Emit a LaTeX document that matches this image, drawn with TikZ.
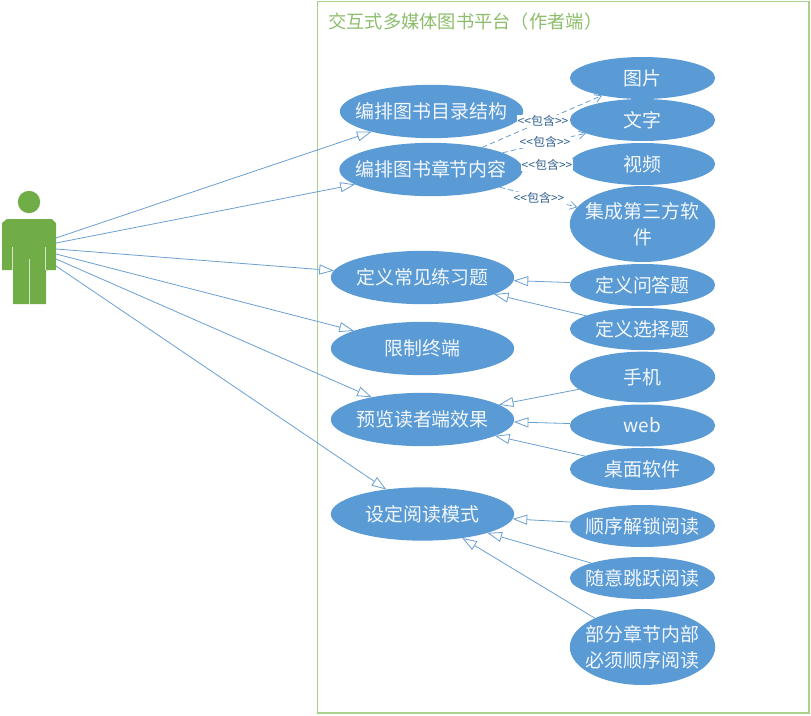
\documentclass[tikz,border=0pt]{standalone}
\usepackage{fontspec}
\setmainfont{Liberation Sans}
\newfontfamily\cjk{Noto Sans CJK SC}
\usetikzlibrary{shapes.geometric,arrows.meta}
\definecolor{ucblue}{HTML}{5B9BD5}
\definecolor{ucline}{HTML}{6A9FD3}
\definecolor{ucgreen}{HTML}{70AD47}
\definecolor{ucframe}{HTML}{A9D18E}
\definecolor{uclabel}{HTML}{2F5F8F}
\tikzset{
  x=0.75pt,y=-0.75pt,
  usecase/.style={ellipse,fill=ucblue,inner xsep=-70pt,inner ysep=-30pt,outer sep=0pt,text=white!92!ucblue,align=center,
    font=\cjk\fontsize{14.2}{19.5}\selectfont},
  leftcase/.style={usecase,minimum width=137.5pt,minimum height=40pt},
  rightcase/.style={usecase,minimum width=109pt,minimum height=31.5pt},
  tallcase/.style={usecase,minimum width=109pt,minimum height=57pt},
  assoc/.style={draw=ucline,line width=0.6pt,-{Triangle[open,length=11pt,width=7.5pt,fill=white]}},
  incl/.style={draw=ucline,line width=0.6pt,dash pattern=on 4pt off 2.5pt,-{Straight Barb[length=5pt,width=6pt]}},
  incltext/.style={fill=white,inner sep=0.6pt,text=uclabel,font=\cjk\fontsize{9}{10}\selectfont},
  actorpart/.style={fill=ucgreen,draw=none},
  actorseam/.style={draw=white!70!ucgreen,line width=0.6pt},
}
\begin{document}
\begin{tikzpicture}
\useasboundingbox (0,0) rectangle (811,715);
\draw[ucframe,line width=0.8pt] (317.5,1.5) rectangle (809,713);
\node[anchor=west,inner sep=0pt,text=ucgreen!80!white,font=\cjk\fontsize{13.7}{16}\selectfont] (title) at (328,22) {交互式多媒体图书平台（作者端）};
% actor
\fill[actorpart] (29,202) circle[radius=8.4pt];
\fill[actorpart] (7,219) -- (52,219) -- (56,223) -- (56,270) -- (46,270) -- (46,304) -- (13,304) -- (13,270) -- (2,270) -- (2,223) -- cycle;
\draw[actorseam] (12.5,247) -- (12.5,270);
\draw[actorseam] (45.5,247) -- (45.5,270);
\draw[actorseam] (29,259) -- (29,304);
\coordinate (p1) at (56,238);
\coordinate (p2) at (56,243);
\coordinate (p3) at (56,249);
\coordinate (p4) at (56,254);
\coordinate (p5) at (56,259);
\coordinate (p6) at (56,266);
% left cases
\node[leftcase] (a) at (431.5,111.5) {编排图书目录结构};
\node[leftcase] (b) at (431,169.5) {编排图书章节内容};
\node[leftcase] (c) at (422.5,277.5) {定义常见练习题};
\node[leftcase] (d) at (422.5,348.5) {限制终端};
\node[leftcase] (e) at (422.5,419.5) {预览读者端效果};
\node[leftcase] (f) at (422.5,514) {设定阅读模式};
% right cases
\node[rightcase] (r1) at (642.5,78) {图片};
\node[rightcase] (r2) at (642.5,120) {文字};
\node[rightcase] (r3) at (642.5,164) {视频};
\node[tallcase] (r4) at (642.5,224) {集成第三方软\\件};
\node[rightcase] (r5) at (642.5,285) {定义问答题};
\node[rightcase] (r6) at (642.5,329) {定义选择题};
\node[rightcase,minimum height=38pt] (r7) at (642.5,377) {手机};
\node[rightcase] (r8) at (642.5,425.5) {web};
\node[rightcase] (r9) at (642.5,469) {桌面软件};
\node[rightcase] (r10) at (642.5,526) {顺序解锁阅读};
\node[rightcase] (r11) at (642.5,578) {随意跳跃阅读};
\node[tallcase] (r12) at (642.5,647) {部分章节内部\\必须顺序阅读};
% actor associations
\draw[assoc] (p1) -- (a);
\draw[assoc] (p2) -- (b);
\draw[assoc] (p3) -- (c);
\draw[assoc] (p4) -- (d);
\draw[assoc] (p5) -- (e);
\draw[assoc] (p6) -- (f);
% generalisations
\draw[assoc] (r5) -- (c);
\draw[assoc] (r6) -- (c);
\draw[assoc] (r7) -- (e);
\draw[assoc] (r8) -- (e);
\draw[assoc] (r9) -- (e);
\draw[assoc] (r10) -- (f);
\draw[assoc] (r11) -- (f);
\draw[assoc] (r12) -- (f);
% includes
\draw[incl] (b) -- (r1);
\draw[incl] (b) -- (r2);
\draw[incl] (b) -- (r3);
\draw[incl] (b) -- (r4);
\node[incltext] (l1) at (543,121) {<<包含>>};
\node[incltext] (l2) at (545,142) {<<包含>>};
\node[incltext] (l3) at (547,165) {<<包含>>};
\node[incltext] (l4) at (539,198) {<<包含>>};
\end{tikzpicture}
\end{document}
